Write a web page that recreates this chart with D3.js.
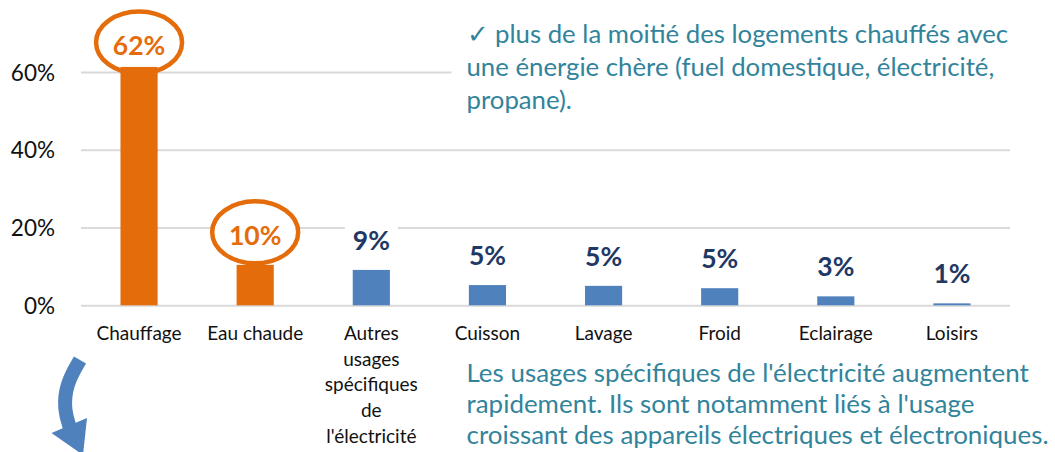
<!DOCTYPE html>
<html><head><meta charset="utf-8">
<script src="https://cdn.jsdelivr.net/npm/d3@7"></script>
<style>html,body{margin:0;padding:0;background:#fff;} svg{display:block;}</style>
</head><body>
<svg id="c" width="1055" height="452"></svg>
<script>
const categories = ["Chauffage","Eau chaude","Autres usages spécifiques de l'électricité","Cuisson","Lavage","Froid","Eclairage","Loisirs"];
const categoryLines = [["Chauffage"],["Eau chaude"],["Autres","usages","spécifiques","de","l'électricité"],["Cuisson"],["Lavage"],["Froid"],["Eclairage"],["Loisirs"]];
const values = [0.613, 0.104, 0.091, 0.052, 0.050, 0.044, 0.023, 0.005];
const valueLabels = ["62%","10%","9%","5%","5%","5%","3%","1%"];
const highlighted = [true, true, false, false, false, false, false, false];
const yTicks = [0, 0.2, 0.4, 0.6];
const noteTop = ["\u2713 plus de la moitié des logements chauffés avec","une énergie chère (fuel domestique, électricité,","propane)."];
const noteBottom = ["Les usages spécifiques de l'électricité augmentent","rapidement. Ils sont notamment liés à l'usage","croissant des appareils électriques et électroniques."];

const ORANGE = "#E46C0A", BLUE = "#4F81BD", NAVY = "#1F3864", TEAL = "#31849B", GRID = "#D9D9D9";
const FONT = "Lato, 'Open Sans', sans-serif";
const svg = d3.select("#c");

const x = d3.scaleBand().domain(categories).range([81, 1010]).paddingInner(0.68).paddingOuter(0.34);
const y = d3.scaleLinear().domain([0, 0.6]).range([305.3, 72]);

// gridlines via axis
const gAxis = svg.append("g").attr("transform", "translate(81,0)")
  .call(d3.axisLeft(y).tickValues(yTicks).tickSize(-929).tickFormat(d3.format(".0%")));
gAxis.select(".domain").remove();
gAxis.selectAll(".tick line").attr("stroke", GRID).attr("stroke-width", 2);
gAxis.selectAll(".tick text").attr("x", -26).attr("dy", "0.36em")
  .attr("font-family", FONT).attr("font-size", 22.5).attr("fill", "#111");

// ellipses (behind bars)
const labelY = (v) => Math.max(y(v) - 20, 55);
const hl = categories.map((c, i) => ({c, i})).filter(d => highlighted[d.i]);
svg.append("g").selectAll("ellipse").data(hl).join("ellipse")
  .attr("cx", d => x(d.c) + x.bandwidth() / 2)
  .attr("cy", d => labelY(values[d.i]) - 12.5)
  .attr("rx", 43).attr("ry", 31)
  .attr("fill", "#fff").attr("stroke", ORANGE).attr("stroke-width", 4.5);

// bars
svg.append("g").selectAll("rect").data(categories).join("rect")
  .attr("x", d => x(d)).attr("width", x.bandwidth())
  .attr("y", (d, i) => y(values[i])).attr("height", (d, i) => y(0) - y(values[i]))
  .attr("fill", (d, i) => highlighted[i] ? ORANGE : BLUE);

// value labels
const vl = svg.append("g").selectAll("g").data(categories).join("g");
vl.append("rect").attr("class", "bg");
vl.append("text")
  .attr("x", d => x(d) + x.bandwidth() / 2)
  .attr("y", (d, i) => labelY(values[i]))
  .attr("text-anchor", "middle").attr("font-family", FONT).attr("font-weight", 700)
  .attr("font-size", 26.5).attr("fill", (d, i) => highlighted[i] ? ORANGE : NAVY)
  .text((d, i) => valueLabels[i]);
vl.each(function(d, i) {
  if (highlighted[i]) return;
  const g = d3.select(this), b = g.select("text").node().getBBox();
  g.select("rect.bg").attr("x", b.x - 8).attr("y", b.y - 2).attr("width", b.width + 16).attr("height", b.height + 4).attr("fill", "#fff");
});

// category labels
const cl = svg.append("g").selectAll("text").data(categories).join("text")
  .attr("text-anchor", "middle").attr("font-family", FONT).attr("font-size", 19).attr("fill", "#111")
  .attr("transform", d => `translate(${x(d) + x.bandwidth() / 2},340)`);
cl.selectAll("tspan").data((d, i) => categoryLines[i]).join("tspan")
  .attr("x", 0).attr("y", (t, j) => j * 25.7).text(t => t);

// notes
function note(lines, x0, y0, lh, targetW, bg) {
  const g = svg.append("g");
  const r = g.append("rect");
  const t = g.append("text").attr("font-family", FONT).attr("font-size", 25).attr("fill", TEAL);
  t.selectAll("tspan").data(lines).join("tspan").attr("x", x0).attr("y", (d, j) => y0 + j * lh).text(d => d);
  const w = d3.max(t.selectAll("tspan").nodes(), n => n.getComputedTextLength());
  t.attr("font-size", 25 * targetW / w);
  if (bg) r.attr("x", x0 - 15).attr("y", y0 - 35).attr("width", 1055 - x0 + 15).attr("height", lh * lines.length + 15).attr("fill", "#fff");
}
note(noteTop, 466.5, 43.3, 33, 1008 - 466.5, true);
note(noteBottom, 466.5, 381.7, 31.2, 1049 - 466.5, false);

// curved arrow
const arrow = svg.append("g").attr("fill", BLUE);
arrow.append("path").attr("d", d3.line().curve(d3.curveBasis)([[80, 360], [66, 384], [64, 410], [70, 428]]))
  .attr("fill", "none").attr("stroke", BLUE).attr("stroke-width", 14);
arrow.append("path").attr("d", "M51.5,433 L87,418 L83,455 Z");
</script>
</body></html>
